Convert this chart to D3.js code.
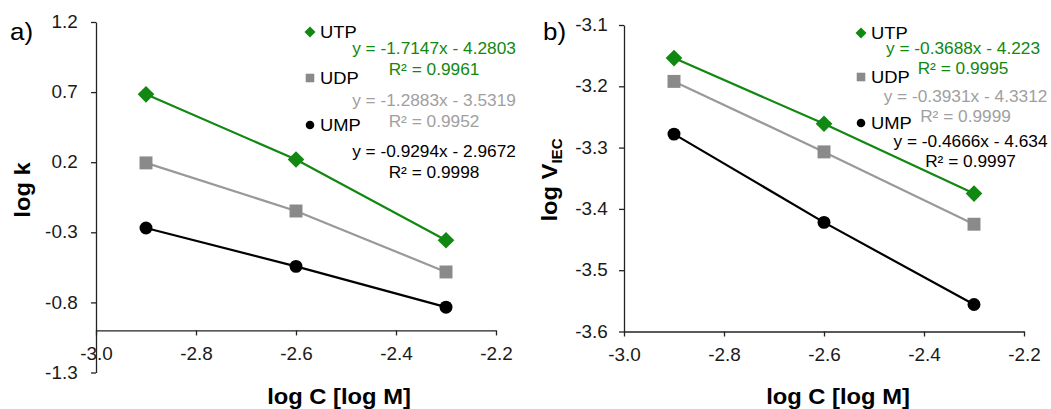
<!DOCTYPE html>
<html>
<head>
<meta charset="utf-8">
<script src="https://cdn.jsdelivr.net/npm/d3@7"></script>
<style>
  html, body { margin: 0; padding: 0; background: #fff; }
  svg { display: block; font-family: "Liberation Sans", Arial, sans-serif; }
</style>
</head>
<body>
<svg id="chart" width="1051" height="409"></svg>
<script>
// --- data ---
var logC = [-2.9, -2.6, -2.3];
var seriesNames = ['UTP', 'UDP', 'UMP'];

var logK_UTP = [0.684, 0.219, -0.357];
var logK_UDP = [0.195, -0.148, -0.583];
var logK_UMP = [-0.269, -0.543, -0.834];

var logV_UTP = [-3.154, -3.261, -3.375];
var logV_UDP = [-3.192, -3.307, -3.425];
var logV_UMP = [-3.278, -3.422, -3.556];

var xTicks = [-3.0, -2.8, -2.6, -2.4, -2.2];
var yTicksA = [-1.3, -0.8, -0.3, 0.2, 0.7, 1.2];
var yTicksB = [-3.6, -3.5, -3.4, -3.3, -3.2, -3.1];

var eqA = ['y = -1.7147x - 4.2803', 'y = -1.2883x - 3.5319', 'y = -0.9294x - 2.9672'];
var r2A = ['R\u00b2 = 0.9961', 'R\u00b2 = 0.9952', 'R\u00b2 = 0.9998'];
var eqB = ['y = -0.3688x - 4.223', 'y = -0.3931x - 4.3312', 'y = -0.4666x - 4.634'];
var r2B = ['R\u00b2 = 0.9995', 'R\u00b2 = 0.9999', 'R\u00b2 = 0.9997'];

// --- styles / layout ---
var STRETCH = 1.08;
var lineColors = ['#118811', '#999999', '#000000'];
var markColors = ['#118811', '#8a8a8a', '#000000'];
var textColors = ['#118811', '#a0a0a0', '#000000'];
var shapes = ['diamond', 'square', 'circle'];

var svg = d3.select('#chart');

function marker(g, shape, x, y, s, color) {
    if (shape === 'diamond') {
        g.append('path')
            .attr('d', 'M' + x + ',' + (y - s) + 'L' + (x + s) + ',' + y + 'L' + x + ',' + (y + s) + 'L' + (x - s) + ',' + y + 'Z')
            .style('fill', color);
    } else if (shape === 'square') {
        var h = s * 0.78;
        g.append('rect')
            .attr('x', x - h).attr('y', y - h)
            .attr('width', 2 * h).attr('height', 2 * h)
            .style('fill', color);
    } else {
        g.append('circle')
            .attr('cx', x).attr('cy', y).attr('r', s * 0.78)
            .style('fill', color);
    }
}

function label(g, x, y, txt, size, color, anchor, weight) {
    return g.append('text')
        .attr('transform', 'translate(' + x + ',' + y + ') scale(' + STRETCH + ',1)')
        .attr('text-anchor', anchor || 'start')
        .style('font-size', size + 'px')
        .style('font-weight', weight || 'normal')
        .style('fill', color)
        .text(txt);
}

function panel(opt) {
    var g = svg.append('g');
    var x = d3.scaleLinear().domain([-3.0, -2.2]).range([opt.left, opt.left + 400]);
    var y = d3.scaleLinear().domain(opt.yDomain).range([opt.bottom, opt.top]);

    var yAxis = g.append('g')
        .attr('transform', 'translate(' + opt.left + ',0)')
        .call(d3.axisLeft(y).tickValues(opt.yTicks).tickSize(5).tickSizeOuter(0)
            .tickPadding(opt.yPad).tickFormat(function (d) { return d.toFixed(1); }));
    var xAxis = g.append('g')
        .attr('transform', 'translate(0,' + y(opt.xCross) + ')')
        .call(d3.axisBottom(x).tickValues(xTicks).tickSize(5).tickSizeOuter(0)
            .tickPadding(12).tickFormat(function (d) { return d.toFixed(1); }));

    [yAxis, xAxis].forEach(function (ax) {
        ax.selectAll('path, line').style('stroke', '#222').style('stroke-width', 1.3);
        ax.selectAll('text')
            .style('font-size', '17.5px')
            .style('font-family', '"Liberation Sans", Arial, sans-serif')
            .style('fill', '#1a1a1a')
            .attr('transform', 'scale(' + STRETCH + ',1)');
    });
    xAxis.selectAll('text').attr('x', 0);

    var line = d3.line()
        .x(function (d) { return x(d[0]); })
        .y(function (d) { return y(d[1]); });

    opt.series.forEach(function (vals, i) {
        var pts = logC.map(function (c, j) { return [c, vals[j]]; });
        g.append('path')
            .datum(pts)
            .attr('d', line)
            .style('fill', 'none')
            .style('stroke', lineColors[i])
            .style('stroke-width', 2.2);
        pts.forEach(function (p) {
            marker(g, shapes[i], x(p[0]), y(p[1]), 8.3, markColors[i]);
        });
    });

    // legend
    seriesNames.forEach(function (name, i) {
        marker(g, shapes[i], opt.legX, opt.legY[i], 5.5, markColors[i]);
        label(g, opt.legX + 10, opt.legY[i] + 6, name, 17, '#000');
    });

    // trendline labels
    opt.eq.forEach(function (t, i) {
        label(g, opt.eqX[i], opt.eqY[i], t, 16, textColors[i], 'middle');
        label(g, opt.eqX[i], opt.eqY[i] + opt.eqGap, opt.r2[i], 16, textColors[i], 'middle');
    });

    // titles
    label(g, opt.xTitleX, 404, 'log C [log M]', 22, '#000', 'middle', 'bold');
    label(g, opt.tagX, 40, opt.tag, 24, '#000');
    return { g: g, x: x, y: y };
}

var a = panel({
    left: 96, top: 22, bottom: 372.5,
    yDomain: [-1.3, 1.2], yTicks: yTicksA, yPad: 12, xCross: -1.0,
    series: [logK_UTP, logK_UDP, logK_UMP],
    legX: 310, legY: [32, 78, 125],
    eq: eqA, r2: r2A, eqX: [434, 434, 434], eqY: [54, 106, 157], eqGap: 21,
    xTitleX: 339, tag: 'a)', tagX: 10
});

var b = panel({
    left: 624, top: 25, bottom: 331.5,
    yDomain: [-3.6, -3.1], yTicks: yTicksB, yPad: 10, xCross: -3.6,
    series: [logV_UTP, logV_UDP, logV_UMP],
    legX: 861, legY: [33, 77, 123],
    eq: eqB, r2: r2B, eqX: [963, 965.5, 970.5], eqY: [54, 102, 147], eqGap: 19.5,
    xTitleX: 838, tag: 'b)', tagX: 543
});

// y axis titles (rotated)
a.g.append('text')
    .attr('transform', 'translate(30,190) rotate(-90) scale(' + STRETCH + ',1)')
    .attr('text-anchor', 'middle')
    .style('font-size', '22px')
    .style('font-weight', 'bold')
    .text('log k');

var vt = b.g.append('text')
    .attr('transform', 'translate(557,180) rotate(-90) scale(' + STRETCH + ',1)')
    .attr('text-anchor', 'middle')
    .style('font-size', '22px')
    .style('font-weight', 'bold');
vt.append('tspan').text('log V');
vt.append('tspan').attr('dy', 5).style('font-size', '14px').text('IEC');
</script>
</body>
</html>
